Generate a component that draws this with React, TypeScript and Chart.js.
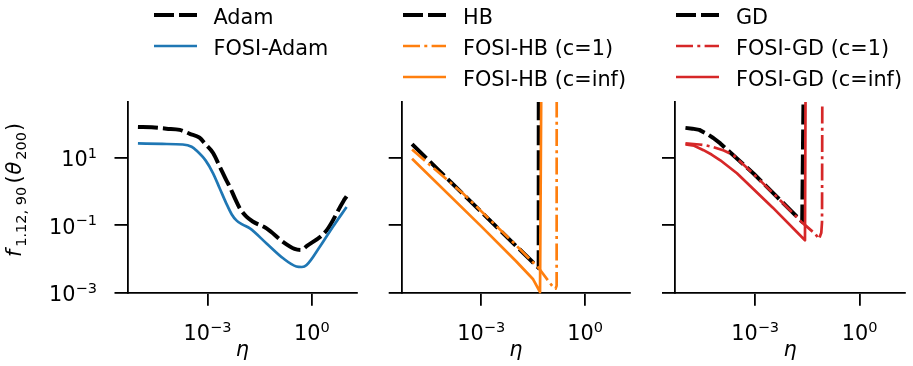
import React, { useEffect, useRef } from 'react';
import { Chart, registerables } from 'chart.js';

Chart.register(...registerables);

const W = 913;
const H = 366;
const FF = '"DejaVu Sans", sans-serif';
const FS = 20.8;

// ---------- data (eta, f) ----------
// Panel 1
const adamEta = [1e-5, 2.5e-5, 6.6e-5, 1.6e-4, 3.1e-4, 5.9e-4, 8.9e-4, 1.45e-3, 2.24e-3, 3.47e-3, 4.37e-3, 6.3e-3, 8.5e-3, 1.32e-2, 2.0e-2, 5.0e-2, 0.15, 0.32, 0.5, 0.71, 2.7, 8.1, 10];
const adamF = [83, 81, 74, 68, 52, 40, 25, 14, 5.6, 2.2, 1.4, 0.6, 0.32, 0.18, 0.13, 0.081, 0.032, 0.02, 0.0186, 0.024, 0.072, 0.52, 0.72];
const fosiAdamEta = [1e-5, 5e-5, 1.95e-4, 3.5e-4, 4.8e-4, 8.9e-4, 1.45e-3, 2.24e-3, 3.47e-3, 5e-3, 6.8e-3, 1e-2, 1.66e-2, 5e-2, 0.15, 0.36, 0.52, 0.71, 1.7, 4, 10];
const fosiAdamF = [27, 26, 25, 21.4, 16.6, 8.3, 3.5, 1.26, 0.45, 0.21, 0.14, 0.107, 0.081, 0.029, 0.0105, 0.006, 0.0058, 0.0066, 0.023, 0.089, 0.35];
// Panel 2
const hbEta = [1e-5, 1e-3, 0.0457, 0.046];
const hbF = [25.7, 0.25, 0.0054, 1e4];
const fosiHb1Eta = [1e-5, 3.16e-4, 1e-2, 0.0457, 0.117, 0.141, 0.151, 0.152];
const fosiHb1F = [17.8, 0.83, 0.026, 0.0054, 0.0015, 0.00132, 0.0016, 1e4];
const fosiHbInfEta = [1e-5, 1e-3, 1e-2, 0.0316, 0.05, 0.055];
const fosiHbInfF = [9.5, 0.093, 0.0087, 0.0025, 0.00105, 1e4];
// Panel 3
const gdEta = [1e-5, 1.58e-5, 2.5e-5, 4.1e-5, 6.3e-5, 1e-4, 1.9e-4, 9.1e-4, 4.3e-3, 0.0224, 0.0251];
const gdF = [78, 74, 68, 52, 39, 27, 14.8, 3.4, 0.69, 0.126, 1e4];
const fosiGd1Eta = [1e-5, 2.5e-5, 4e-5, 6.3e-5, 1.26e-4, 2.4e-4, 9.1e-4, 4.3e-3, 0.0224, 0.0537, 0.0676, 0.079, 0.083, 0.085];
const fosiGd1F = [27, 25, 23.4, 21, 16.6, 12, 3.3, 0.68, 0.12, 0.055, 0.039, 0.06, 0.126, 1e4];
const fosiGdInfEta = [1e-5, 1.78e-5, 3.3e-5, 5.6e-5, 1e-4, 3e-4, 3.16e-3, 0.0269, 0.0282];
const fosiGdInfF = [25, 23, 17, 12.6, 8.5, 3.5, 0.34, 0.036, 1e4];

const xTicks = [1e-3, 1e0];
const yTicks = [1e-3, 1e-1, 1e1];
const X_MIN = Math.pow(10, -5.3);
const X_MAX = Math.pow(10, 1.3);
const Y_MIN = 1e-3;
const Y_MAX = Math.pow(10, 2.66);

// ---------- styles ----------
const BLACK = '#000000';
const BLUE = '#1f77b4';
const ORANGE = '#ff7f0e';
const RED = '#d62728';
const DASHED = [20, 5];
const DASHDOT = [17, 4.3, 3, 4.3];

type Series = { label: string; eta: number[]; f: number[]; color: string; width: number; dash: number[]; order: number };
type PanelCfg = {
  left: number; right: number; showYLabels: boolean; yTitle: boolean; smooth: boolean;
  legendX: number; legendTextX: number; series: Series[];
};

const TOP = 102;
const BOTTOM = 292.7;

const panels: PanelCfg[] = [
  {
    left: 127.5, right: 357, showYLabels: true, yTitle: true, smooth: true, legendX: 154, legendTextX: 213.5,
    series: [
      { label: 'Adam', eta: adamEta, f: adamF, color: BLACK, width: 4, dash: DASHED, order: 2 },
      { label: 'FOSI-Adam', eta: fosiAdamEta, f: fosiAdamF, color: BLUE, width: 2.7, dash: [], order: 1 },
    ],
  },
  {
    left: 401.7, right: 630, showYLabels: false, yTitle: false, smooth: false, legendX: 403, legendTextX: 463,
    series: [
      { label: 'HB', eta: hbEta, f: hbF, color: BLACK, width: 4, dash: DASHED, order: 2 },
      { label: 'FOSI-HB (c=1)', eta: fosiHb1Eta, f: fosiHb1F, color: ORANGE, width: 2.7, dash: DASHDOT, order: 0 },
      { label: 'FOSI-HB (c=inf)', eta: fosiHbInfEta, f: fosiHbInfF, color: ORANGE, width: 2.7, dash: [], order: 1 },
    ],
  },
  {
    left: 675, right: 905, showYLabels: false, yTitle: false, smooth: false, legendX: 676, legendTextX: 736,
    series: [
      { label: 'GD', eta: gdEta, f: gdF, color: BLACK, width: 4, dash: DASHED, order: 2 },
      { label: 'FOSI-GD (c=1)', eta: fosiGd1Eta, f: fosiGd1F, color: RED, width: 2.7, dash: DASHDOT, order: 0 },
      { label: 'FOSI-GD (c=inf)', eta: fosiGdInfEta, f: fosiGdInfF, color: RED, width: 2.7, dash: [], order: 1 },
    ],
  },
];

function expLabel(v: number): string {
  const e = Math.round(Math.log10(v));
  return e < 0 ? '\u2212' + String(-e) : String(e);
}

function drawPow(ctx: CanvasRenderingContext2D, exp: string, x: number, baseline: number, align: 'center' | 'right') {
  const big = `${FS}px ${FF}`;
  const small = `${FS * 0.7}px ${FF}`;
  ctx.font = big;
  const w1 = ctx.measureText('10').width;
  ctx.font = small;
  const w2 = ctx.measureText(exp).width;
  const total = w1 + w2;
  const x0 = align === 'center' ? x - total / 2 : x - total;
  ctx.font = big;
  ctx.fillText('10', x0, baseline);
  ctx.font = small;
  ctx.fillText(exp, x0 + w1, baseline - 8.5);
}

function drawYTitle(ctx: CanvasRenderingContext2D, cy: number) {
  const it = `italic ${FS}px ${FF}`;
  const nm = `${FS}px ${FF}`;
  const sb = `${FS * 0.7}px ${FF}`;
  const parts = [
    { t: 'f', font: it, dy: 0, gap: 3 },
    { t: '1.12, 90', font: sb, dy: 4.5, gap: 3 },
    { t: '(', font: nm, dy: 0, gap: 1 },
    { t: '\u03b8', font: it, dy: 0, gap: 2 },
    { t: '200', font: sb, dy: 4.5, gap: 1 },
    { t: ')', font: nm, dy: 0, gap: 0 },
  ];
  let total = 0;
  const widths = parts.map((p) => {
    ctx.font = p.font;
    const w = ctx.measureText(p.t).width;
    total += w + p.gap;
    return w;
  });
  ctx.save();
  ctx.translate(21, cy);
  ctx.rotate(-Math.PI / 2);
  ctx.textBaseline = 'alphabetic';
  ctx.textAlign = 'left';
  let x = -total / 2;
  parts.forEach((p, i) => {
    ctx.font = p.font;
    ctx.fillText(p.t, x, p.dy);
    x += widths[i] + p.gap;
  });
  ctx.restore();
}

function makeDecor(cfg: PanelCfg) {
  return {
    id: 'decor',
    afterDraw(chart: any) {
      const ctx: CanvasRenderingContext2D = chart.ctx;
      const xs = chart.scales.x;
      const ys = chart.scales.y;
      ctx.save();
      ctx.fillStyle = '#000';
      ctx.textAlign = 'left';
      ctx.textBaseline = 'alphabetic';
      xTicks.forEach((v) => drawPow(ctx, expLabel(v), xs.getPixelForValue(v), 340, 'center'));
      if (cfg.showYLabels) {
        yTicks.forEach((v) => drawPow(ctx, expLabel(v), 97, ys.getPixelForValue(v) + 8.5, 'right'));
      }
      ctx.font = `italic ${FS}px ${FF}`;
      ctx.textAlign = 'center';
      const ca = chart.chartArea;
      ctx.fillText('\u03b7', (ca.left + ca.right) / 2, 356);
      ctx.textAlign = 'left';
      if (cfg.yTitle) drawYTitle(ctx, 190);
      chart.data.datasets.forEach((ds: any, i: number) => {
        const y = 15 + 31 * i;
        ctx.beginPath();
        ctx.setLineDash(ds.borderDash || []);
        ctx.lineWidth = ds.borderWidth;
        ctx.strokeStyle = ds.borderColor;
        ctx.lineCap = 'butt';
        ctx.moveTo(cfg.legendX, y);
        ctx.lineTo(cfg.legendX + 43, y);
        ctx.stroke();
        ctx.setLineDash([]);
        ctx.font = `${FS}px ${FF}`;
        ctx.fillStyle = '#000';
        ctx.fillText(ds.label, cfg.legendTextX, y + 9);
      });
      ctx.restore();
    },
  };
}

function makeConfig(cfg: PanelCfg): any {
  const YW = 20;
  const XH = 20;
  const axisCommon = {
    type: 'logarithmic',
    bounds: 'data',
    grid: { display: true, drawOnChartArea: false, drawTicks: true, tickLength: 13, color: '#000', lineWidth: 1.8 },
    border: { display: true, color: '#000', width: 1.8 },
    ticks: { display: false },
  };
  return {
    type: 'line',
    data: {
      datasets: cfg.series.map((s) => ({
        label: s.label,
        data: s.eta.map((e, i) => ({ x: e, y: s.f[i] })),
        borderColor: s.color,
        backgroundColor: s.color,
        borderWidth: s.width,
        borderDash: s.dash,
        borderJoinStyle: 'round',
        borderCapStyle: 'butt',
        pointRadius: 0,
        fill: false,
        cubicInterpolationMode: cfg.smooth ? 'monotone' : 'default',
        tension: 0,
        order: s.order,
        clip: { left: 5, top: 0, right: 5, bottom: 3 },
      })),
    },
    options: {
      animation: false,
      responsive: false,
      maintainAspectRatio: false,
      devicePixelRatio: 1,
      events: [],
      layout: { padding: { left: cfg.left - YW, right: W - cfg.right, top: TOP, bottom: H - BOTTOM - XH } },
      plugins: { legend: { display: false }, tooltip: { enabled: false }, title: { display: false } },
      scales: {
        x: {
          ...axisCommon,
          min: X_MIN,
          max: X_MAX,
          afterBuildTicks: (s: any) => { s.ticks = xTicks.map((v) => ({ value: v })); },
          afterFit: (s: any) => { s.height = XH; },
        },
        y: {
          ...axisCommon,
          min: Y_MIN,
          max: Y_MAX,
          afterBuildTicks: (s: any) => { s.ticks = yTicks.map((v) => ({ value: v })); },
          afterFit: (s: any) => { s.width = YW; },
        },
      },
    },
    plugins: [makeDecor(cfg)],
  };
}

function Panel({ cfg }: { cfg: PanelCfg }) {
  const ref = useRef<HTMLCanvasElement>(null);
  useEffect(() => {
    if (!ref.current) return;
    const chart = new Chart(ref.current, makeConfig(cfg));
    return () => chart.destroy();
  }, [cfg]);
  return (
    <canvas
      ref={ref}
      width={W}
      height={H}
      style={{ position: 'absolute', left: 0, top: 0, width: W, height: H }}
    />
  );
}

export default function App() {
  return (
    <div style={{ position: 'absolute', left: 0, top: 0, width: W, height: H, background: '#ffffff' }}>
      {panels.map((p, i) => (
        <Panel key={i} cfg={p} />
      ))}
    </div>
  );
}
